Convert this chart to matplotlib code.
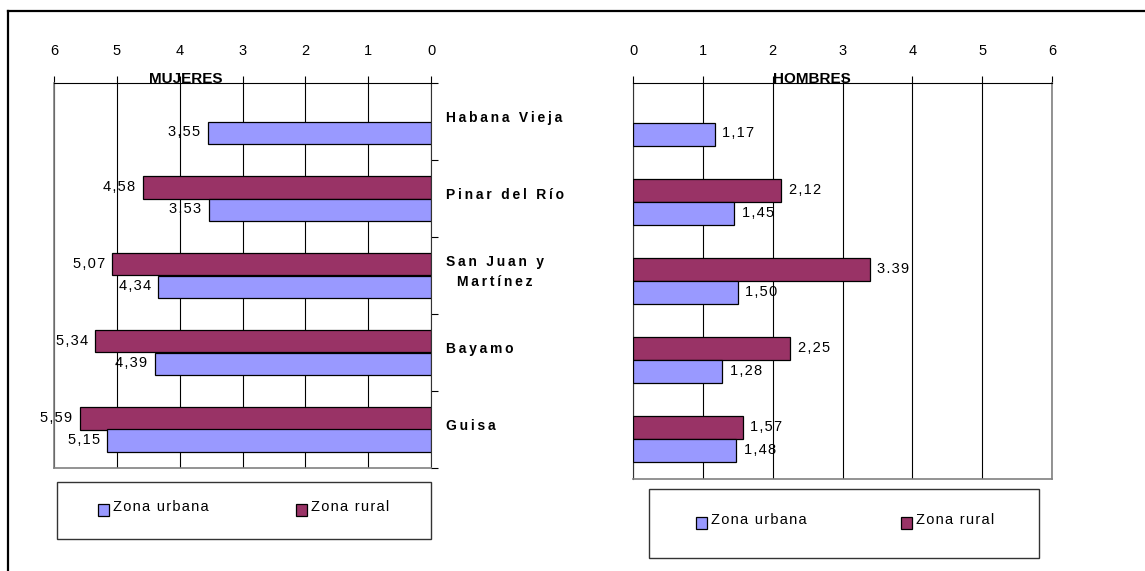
import numpy as np
import matplotlib
matplotlib.use("Agg")
import matplotlib.pyplot as plt
from matplotlib.patches import Rectangle
from matplotlib.lines import Line2D
from matplotlib.transforms import blended_transform_factory

# datos por municipio
municipios = ['Habana Vieja', 'Pinar del Río', 'San Juan y\nMartínez', 'Bayamo', 'Guisa']
mujeres_urbana = [3.55, 3.53, 4.34, 4.39, 5.15]
mujeres_rural = [np.nan, 4.58, 5.07, 5.34, 5.59]
hombres_urbana = [1.17, 1.45, 1.50, 1.28, 1.48]
hombres_rural = [np.nan, 2.12, 3.39, 2.25, 1.57]
hombres_rural_etiq = ['', '2,12', '3.39', '2,25', '1,57']
ticks_x = [0, 1, 2, 3, 4, 5, 6]

AZUL = '#9999FF'
GRANATE = '#993366'
GRIS = '#808080'

plt.rcParams.update({
    'font.family': ['Liberation Sans', 'DejaVu Sans'],
    'font.size': 10.5,
})

FINO = '\u2009'   # espacio fino
PELO = '\u200a'   # espacio muy fino


def espaciado(s, sep=PELO):
    return '\n'.join(sep.join(linea) for linea in s.split('\n'))


def coma(v):
    return f"{v:.2f}".replace('.', ',')


fig = plt.figure(figsize=(11.45, 5.71), dpi=100)
W, H = 1145, 571

ax1 = fig.add_axes([54 / W, 1 - 468 / H, 377 / W, 385 / H])
ax2 = fig.add_axes([633 / W, 1 - 479 / H, 419 / W, 396 / H])

y = np.arange(len(municipios))
alto = 0.29
d = 0.145

for ax, urb, rur in [(ax1, mujeres_urbana, mujeres_rural),
                     (ax2, hombres_urbana, hombres_rural)]:
    hay = ~np.isnan(rur)
    ax.barh((y - d)[hay], np.asarray(rur)[hay], height=alto, color=GRANATE,
            edgecolor='black', linewidth=0.9, zorder=3)
    ax.barh(y + d, urb, height=alto, color=AZUL,
            edgecolor='black', linewidth=0.9, zorder=3)
    ax.set_ylim(len(municipios) - 0.5, -0.5)
    ax.set_xticks(ticks_x)
    ax.xaxis.tick_top()
    ax.tick_params(axis='x', direction='out', length=5, width=0.8,
                   pad=13, labelsize=10.5)
    ax.grid(axis='x', color='black', linewidth=0.8, zorder=1)
    ax.spines['top'].set_color('black')
    ax.spines['bottom'].set_color(GRIS)
    ax.spines['bottom'].set_linewidth(1.2)

# mujeres: eje invertido
ax1.set_xlim(6, 0)
ax1.spines['left'].set_color(GRIS)
ax1.spines['left'].set_linewidth(1.2)
ax1.spines['right'].set_color('#333333')
ax1.yaxis.tick_right()
ax1.set_yticks(np.arange(-0.5, len(municipios), 1.0))
ax1.set_yticklabels([])
ax1.tick_params(axis='y', direction='out', length=5, width=0.8)

ax2.set_xlim(0, 6)
ax2.spines['right'].set_color(GRIS)
ax2.spines['right'].set_linewidth(1.2)
ax2.spines['left'].set_color('#333333')
ax2.set_yticks([])

# etiquetas de valor
opc = dict(textcoords='offset points', va='center', fontsize=10.5,
           annotation_clip=False)
for i in range(len(municipios)):
    if not np.isnan(mujeres_rural[i]):
        ax1.annotate(espaciado(coma(mujeres_rural[i])), (mujeres_rural[i], y[i] - d),
                     xytext=(-5.5, 0.5), ha='right', **opc)
    ax1.annotate(espaciado(coma(mujeres_urbana[i])), (mujeres_urbana[i], y[i] + d),
                 xytext=(-5.5, 0.5), ha='right', **opc)
    if not np.isnan(hombres_rural[i]):
        ax2.annotate(espaciado(hombres_rural_etiq[i]), (hombres_rural[i], y[i] - d),
                     xytext=(5.5, 0.5), ha='left', **opc)
    ax2.annotate(espaciado(coma(hombres_urbana[i])), (hombres_urbana[i], y[i] + d),
                 xytext=(5.5, 0.5), ha='left', **opc)

# nombres de municipios entre los dos paneles
tr = blended_transform_factory(ax1.transAxes, ax1.transData)
for i, nombre in enumerate(municipios):
    ax1.text(1 + 15 / 377, y[i] - 0.045, espaciado(nombre, FINO), transform=tr,
             ha='left', va='center', multialignment='center',
             fontsize=10, fontweight='bold', linespacing=1.5)

# títulos
fig.text(186 / W, 1 - 83 / H, 'MUJERES', ha='center', va='baseline',
         fontsize=11, fontweight='bold')
fig.text(812 / W, 1 - 83 / H, 'HOMBRES', ha='center', va='baseline',
         fontsize=11, fontweight='bold')


# leyendas dibujadas a mano
def leyenda(x0, y0, x1, y1, cuadros, yc):
    fig.patches.append(Rectangle((x0 / W, 1 - y1 / H), (x1 - x0) / W, (y1 - y0) / H,
                                 transform=fig.transFigure, fill=False,
                                 edgecolor='#333333', linewidth=1.0))
    for xc, color, texto in cuadros:
        fig.patches.append(Rectangle((xc / W, 1 - (yc + 6) / H), 11 / W, 12 / H,
                                     transform=fig.transFigure, facecolor=color,
                                     edgecolor='black', linewidth=0.9))
        fig.text((xc + 15) / W, 1 - (yc - 3) / H, espaciado(texto),
                 ha='left', va='center', fontsize=10.5)


leyenda(57, 482, 431, 539, [(98, AZUL, 'Zona urbana'), (296, GRANATE, 'Zona rural')], 510)
leyenda(649, 489, 1039, 558, [(696, AZUL, 'Zona urbana'), (901, GRANATE, 'Zona rural')], 523)

# marco exterior
fig.add_artist(Line2D([8 / W, 1], [1 - 11 / H, 1 - 11 / H], color='black',
                      linewidth=1.6, transform=fig.transFigure))
fig.add_artist(Line2D([8 / W, 8 / W], [0, 1 - 11 / H], color='black',
                      linewidth=1.6, transform=fig.transFigure))

fig.savefig('out.png', dpi=100)
